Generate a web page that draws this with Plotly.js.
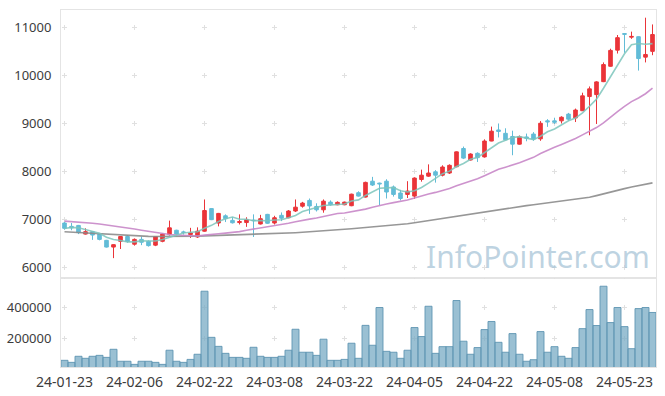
<!DOCTYPE html>
<html>
<head>
<meta charset="utf-8">
<script src="https://cdn.plot.ly/plotly-3.0.1.min.js"></script>
<style>html,body{margin:0;padding:0;background:#fff;}#chart{width:665px;height:396px;}</style>
</head>
<body>
<div id="chart"></div>
<script>
var dates = ['24-01-23','24-01-24','24-01-25','24-01-26','24-01-29','24-01-30','24-01-31','24-02-01','24-02-02','24-02-05',
'24-02-06','24-02-07','24-02-08','24-02-13','24-02-14','24-02-15','24-02-16','24-02-19','24-02-20','24-02-21',
'24-02-22','24-02-23','24-02-26','24-02-27','24-02-28','24-02-29','24-03-04','24-03-05','24-03-06','24-03-07',
'24-03-08','24-03-11','24-03-12','24-03-13','24-03-14','24-03-15','24-03-18','24-03-19','24-03-20','24-03-21',
'24-03-22','24-03-25','24-03-26','24-03-27','24-03-28','24-03-29','24-04-01','24-04-02','24-04-03','24-04-04',
'24-04-05','24-04-08','24-04-09','24-04-11','24-04-12','24-04-15','24-04-16','24-04-17','24-04-18','24-04-19',
'24-04-22','24-04-23','24-04-24','24-04-25','24-04-26','24-04-29','24-04-30','24-05-02','24-05-03','24-05-07',
'24-05-08','24-05-09','24-05-10','24-05-13','24-05-14','24-05-16','24-05-17','24-05-20','24-05-21','24-05-22',
'24-05-23','24-05-24','24-05-27','24-05-28','24-05-29'];

var openP = [6930,6860,6880,6700,6750,6700,6570,6430,6550,6650,
6490,6590,6550,6470,6550,6690,6780,6745,6690,6640,
6760,7230,6930,7080,6985,6940,6940,6990,6910,7110,
6930,7090,7040,7180,7280,7400,7275,7205,7365,7310,
7310,7290,7560,7470,7800,7760,7800,7680,7555,7525,
7490,7835,7905,7995,7925,7970,8100,8480,8240,8380,
8305,8635,8865,8795,8730,8570,8720,8780,8680,9055,
9055,9055,9195,9115,9265,9560,9600,9870,10190,10525,
10870,10795,10805,10380,10500];

var highP = [6950,6930,6890,6820,6760,6720,6580,6490,6660,6680,
6610,6650,6570,6660,6720,6980,6790,6770,6830,6840,
7420,7240,7140,7110,7050,7110,7050,7110,7100,7120,
7080,7150,7200,7420,7370,7440,7340,7420,7400,7380,
7375,7540,7590,7790,7890,7770,7840,7710,7620,7800,
7880,8040,8150,8030,8130,8150,8420,8520,8380,8400,
8670,8935,9000,8900,8850,8750,8790,8820,9050,9090,
9120,9150,9220,9310,9640,9770,9880,10270,10555,10840,
10880,10910,10815,11200,11060];

var lowP = [6790,6780,6700,6690,6580,6570,6420,6200,6390,6520,
6460,6470,6440,6450,6530,6670,6670,6690,6620,6620,
6750,6990,6860,6950,6920,6900,6850,6640,6900,6910,
6900,6970,7030,7160,7250,7120,7170,7145,7290,7300,
7300,7280,7480,7460,7700,7300,7440,7480,7400,7450,
7430,7790,7890,7770,7900,7950,8090,8260,8230,8200,
8290,8630,8710,8650,8340,8560,8630,8640,8640,8930,
8990,9000,9060,9030,9260,8755,8990,9860,10180,10455,
10470,10760,10100,10270,10420];

var closeP = [6820,6830,6730,6750,6680,6590,6430,6480,6650,6545,
6590,6530,6460,6650,6700,6830,6700,6735,6725,6760,
7190,7000,7130,7020,6935,6960,7000,6980,7020,6925,
7040,7030,7180,7260,7345,7285,7205,7385,7310,7360,
7365,7530,7490,7775,7720,7745,7575,7525,7440,7595,
7865,7925,7970,7925,8095,8130,8410,8280,8365,8290,
8635,8840,8835,8660,8570,8725,8695,8675,9005,9035,
9025,9130,9090,9280,9575,9720,9865,10225,10520,10785,
10855,10810,10350,10435,10850];

var ma5 = [6815,6840,6830,6790,6762,6716,6636,6586,6566,6539,
6539,6559,6555,6555,6586,6634,6668,6723,6738,6750,
6822,6882,6961,7020,7055,7009,7009,6979,6979,6977,
6993,6999,7039,7087,7171,7220,7255,7296,7306,7309,
7325,7390,7411,7504,7576,7652,7661,7668,7601,7576,
7600,7670,7759,7856,7956,8009,8106,8168,8256,8295,
8396,8482,8593,8652,8708,8726,8697,8665,8734,8827,
8887,8974,9057,9112,9220,9359,9506,9733,9981,10223,
10450,10639,10664,10647,10660];

var ma20 = [6970,6962,6952,6940,6925,6908,6890,6870,6850,6828,
6805,6780,6755,6730,6708,6692,6680,6670,6663,6659,
6678,6686,6706,6720,6733,6751,6780,6805,6823,6842,
6865,6890,6926,6956,6988,7011,7036,7069,7098,7128,
7137,7163,7181,7219,7258,7298,7326,7354,7375,7408,
7449,7494,7534,7567,7604,7647,7707,7752,7804,7851,
7914,7980,8047,8091,8134,8183,8239,8296,8375,8447,
8505,8565,8621,8689,8763,8842,8915,9012,9120,9245,
9356,9454,9530,9619,9733];

var ma60 = [6750,6742,6733,6724,6715,6705,6695,6685,6675,6668,
6662,6657,6653,6651,6650,6650,6651,6652,6655,6658,
6662,6666,6671,6675,6679,6684,6689,6694,6699,6704,
6710,6716,6722,6729,6737,6745,6755,6767,6779,6791,
6800,6810,6822,6835,6848,6860,6872,6885,6900,6915,
6935,6958,6980,7002,7025,7048,7072,7095,7118,7140,
7160,7182,7205,7228,7255,7275,7292,7310,7328,7345,
7363,7380,7398,7418,7438,7465,7500,7540,7580,7612,
7645,7680,7712,7740,7765];

var volume = [60000,47000,86000,73000,86000,92000,79000,131000,54000,54000,
34000,54000,54000,47000,34000,125000,54000,47000,66000,99000,
505000,208000,150000,105000,79000,79000,73000,144000,86000,79000,
79000,86000,125000,260000,112000,112000,92000,196000,60000,60000,
66000,170000,73000,285000,157000,400000,118000,112000,73000,125000,
271000,213000,408000,105000,148000,148000,445000,183000,99000,142000,
258000,310000,176000,112000,232000,99000,54000,64000,245000,112000,
148000,86000,73000,142000,264000,387000,284000,537000,303000,400000,
277000,135000,393000,400000,368000];

var priceTicks = [6000,7000,8000,9000,10000,11000];
var volumeTicks = [200000,400000];
var dateTickLabels = ['24-01-23','24-02-06','24-02-22','24-03-08','24-03-22','24-04-05','24-04-22','24-05-08','24-05-23'];

var RED = '#ea3439', TEAL = '#62bcd7';
var gridC = '#e0e0e0', frameC = '#e4e4e4';
var tickFont = {family: 'Noto Sans, sans-serif', size: 13, color: '#3c3c3c'};

var traces = [
  {type:'scatter', mode:'lines', x:dates, y:ma60, xaxis:'x', yaxis:'y', line:{color:'rgba(140,140,140,0.9)', width:1.6}, hoverinfo:'skip'},
  {type:'scatter', mode:'lines', x:dates, y:ma20, xaxis:'x', yaxis:'y', line:{color:'rgba(200,135,200,0.9)', width:1.6}, hoverinfo:'skip'},
  {type:'scatter', mode:'lines', x:dates, y:ma5, xaxis:'x', yaxis:'y', line:{color:'rgba(125,198,188,0.85)', width:1.6}, hoverinfo:'skip'},
  {type:'candlestick', x:dates, open:openP, high:highP, low:lowP, close:closeP, xaxis:'x', yaxis:'y',
   increasing:{line:{color:RED, width:1}, fillcolor:RED},
   decreasing:{line:{color:TEAL, width:1}, fillcolor:TEAL},
   whiskerwidth:0, hoverinfo:'skip'},
  {type:'bar', x:dates, y:volume, xaxis:'x2', yaxis:'y2',
   marker:{color:'rgba(115,168,194,0.72)', line:{color:'rgba(95,150,178,0.9)', width:1}}, hoverinfo:'skip'}
];

var layout = {
  width:665, height:396,
  margin:{l:61, r:9, t:10, b:29, pad:0},
  paper_bgcolor:'#fff', plot_bgcolor:'#fff',
  showlegend:false,
  bargap:0,
  boxgap:0.26,
  font:tickFont,
  xaxis:{type:'category', domain:[0,1], anchor:'y', range:[-0.5,84.5], showticklabels:false,
    tickvals:dateTickLabels, ticks:'', showgrid:true, gridcolor:gridC, gridwidth:1,
    griddash:'0px,14.8px,5px,28.2px', showline:true, linecolor:frameC, mirror:true,
    rangeslider:{visible:false}, zeroline:false, fixedrange:true},
  yaxis:{domain:[0.25,1], anchor:'x', range:[5792,11360], tickvals:priceTicks, ticktext:priceTicks.map(String),
    ticks:'outside', ticklen:6, tickcolor:'rgba(0,0,0,0)', showgrid:true, gridcolor:gridC, gridwidth:1,
    griddash:'0px,1px,5px,64px', showline:true, linecolor:frameC, mirror:true, zeroline:false, tickfont:tickFont},
  xaxis2:{type:'category', domain:[0,1], anchor:'y2', matches:'x', range:[-0.5,84.5],
    tickvals:dateTickLabels, ticktext:dateTickLabels, ticks:'outside', ticklen:2, tickcolor:'rgba(0,0,0,0)',
    showgrid:true, gridcolor:gridC, gridwidth:1, griddash:'0.6px,26px,4.4px,0px',
    showline:true, linecolor:frameC, mirror:true, zeroline:false,
    tickfont:{family:'Noto Sans, sans-serif', size:14, color:'#3c3c3c'}},
  yaxis2:{domain:[0,0.248], anchor:'x2', range:[17000,587000], tickvals:volumeTicks, ticktext:volumeTicks.map(String),
    ticks:'outside', ticklen:6, tickcolor:'rgba(0,0,0,0)', showgrid:true, gridcolor:gridC, gridwidth:1,
    griddash:'0px,1px,5px,64px', showline:true, linecolor:frameC, mirror:true, zeroline:false, tickfont:tickFont},
  annotations:[{text:'InfoPointer.com', xref:'paper', yref:'paper', x:0.802, y:0.31, xanchor:'center', yanchor:'middle',
    showarrow:false, font:{family:'Noto Sans, sans-serif', size:30, color:'rgba(165,195,214,0.72)'}}]
};

Plotly.newPlot('chart', traces, layout, {staticPlot:true, displayModeBar:false});
</script>
</body>
</html>
